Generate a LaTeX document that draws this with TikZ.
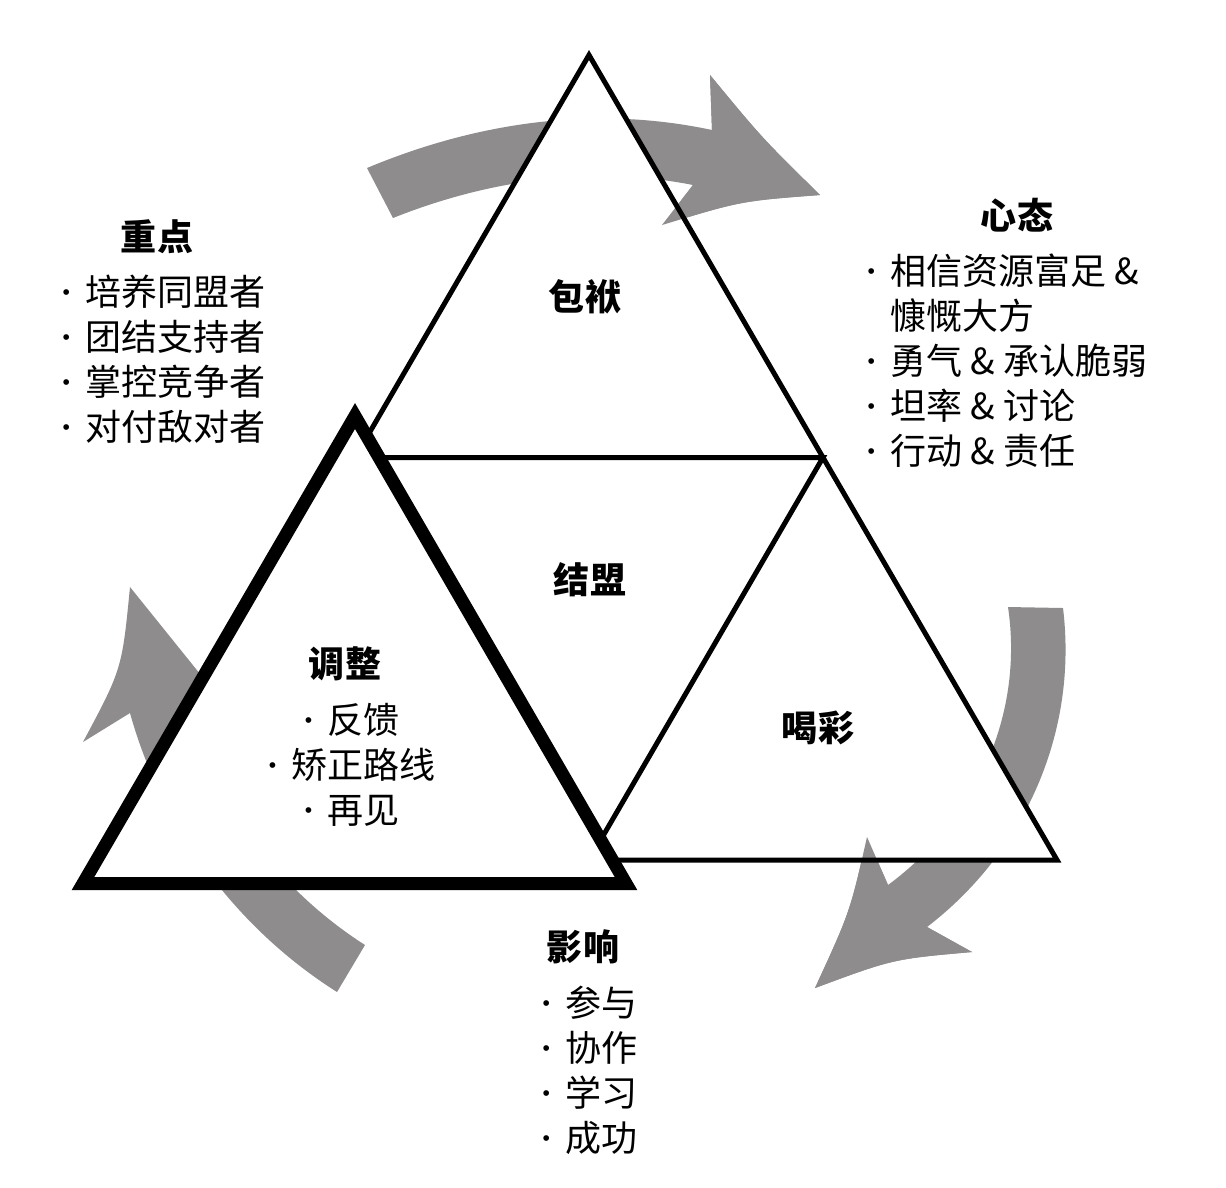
\documentclass[tikz,border=0pt]{standalone}
\usepackage{fontspec}
\setmainfont{Noto Sans CJK SC}
\newfontfamily\dotfont{Liberation Sans}
\usetikzlibrary{calc,positioning}
\definecolor{arrowgray}{RGB}{142,140,141}
\newcommand{\bul}{\makebox[0.75em][l]{\hspace{0.12em}\raisebox{0.17em}{\dotfont\fontsize{12}{12}\selectfont •}}}

\begin{document}
\begin{tikzpicture}[x=0.02cm, y=-0.02cm,
	every node/.style={inner sep=0pt},
	edge/.style={line width=0.1cm, line join=miter},
	frame/.style={line width=0.26cm, line join=miter, fill=white},
	arrowfill/.style={fill=arrowgray},
	head/.style={font=\fontsize{20.5}{25.6}\selectfont\bfseries},
	items/.style={font=\fontsize{20.5}{25.6}\selectfont, align=left}]
	\fill[white] (0,0) rectangle (1226,1187);
	\useasboundingbox (0,0) rectangle (1226,1187);

	\coordinate (top) at (589,55);
	\coordinate (bl) at (121,860);
	\coordinate (br) at (1057,860);
	\coordinate (ml) at ($(top)!0.5!(bl)$);
	\coordinate (mr) at ($(top)!0.5!(br)$);
	\coordinate (mb) at ($(bl)!0.5!(br)$);
	\coordinate (t1) at (355,416);
	\coordinate (t2) at (83,883.5);
	\coordinate (t3) at (626,883.5);

	\fill[arrowfill] (367,168) .. controls (477,122) and (595,105) .. (712,130)
		-- (710,75) .. controls (762,138) .. (820,195)
		.. controls (741,201) .. (662,225)
		-- (693,185) .. controls (592,165) and (488,180) .. (393,218) -- cycle;
	\fill[arrowfill] (1063,608) .. controls (1078,731) and (1026,851) .. (927,927)
		-- (972,952) .. controls (893,959) .. (815,988)
		.. controls (850,912) .. (867,837)
		-- (888,885) .. controls (976,820) and (1024,715) .. (1008,607) -- cycle;
	\fill[arrowfill] (337,992) .. controls (236,928) and (162,828) .. (130,713)
		-- (83,742) .. controls (122,669) .. (130,587)
		-- (225,705)
		-- (184,700) .. controls (213,801) and (276,888) .. (365,945) -- cycle;

	\fill[white] (top) -- (bl) -- (br) -- cycle;
	\fill[arrowfill] (712,130) -- (710,75) .. controls (762,138) .. (820,195)
		.. controls (741,201) .. (662,225) -- (693,185) -- cycle;
	\fill[arrowfill] (927,927) -- (972,952) .. controls (893,959) .. (815,988)
		.. controls (850,912) .. (867,837) -- (888,885) -- cycle;

	\draw[edge] (top) -- (br) -- (bl) -- cycle;
	\draw[edge] (ml) -- (mr) -- (mb) -- cycle;
	\draw[frame] (t1) -- (t2) -- (t3) -- cycle;

	\node[head] (focus) at (157,237) {重点};
	\node[items, anchor=north west] (focuslist) at (58,275)
		{\bul 培养同盟者\\ \bul 团结支持者\\ \bul 掌控竞争者\\ \bul 对付敌对者};
	\node[head] (mindset) at (1017,215) {心态};
	\node[items, anchor=north west] (mindsetlist) at (863,254)
		{\bul 相信资源富足 \&\\ \phantom{\bul}慷慨大方\\ \bul 勇气 \& 承认脆弱\\ \bul 坦率 \& 讨论\\ \bul 行动 \& 责任};
	\node[head] (baggage) at (585,297) {包袱};
	\node[head] (alliance) at (590,580) {结盟};
	\node[head] (adjust) at (345,664) {调整};
	\node[items, align=center] (adjustlist) at (350,765)
		{\bul 反馈\\ \bul 矫正路线\\ \bul 再见};
	\node[head] (cheer) at (818,728) {喝彩};
	\node[head] (impact) at (583,947) {影响};
	\node[items, anchor=north west] (impactlist) at (538,986)
		{\bul 参与\\ \bul 协作\\ \bul 学习\\ \bul 成功};
\end{tikzpicture}
\end{document}
